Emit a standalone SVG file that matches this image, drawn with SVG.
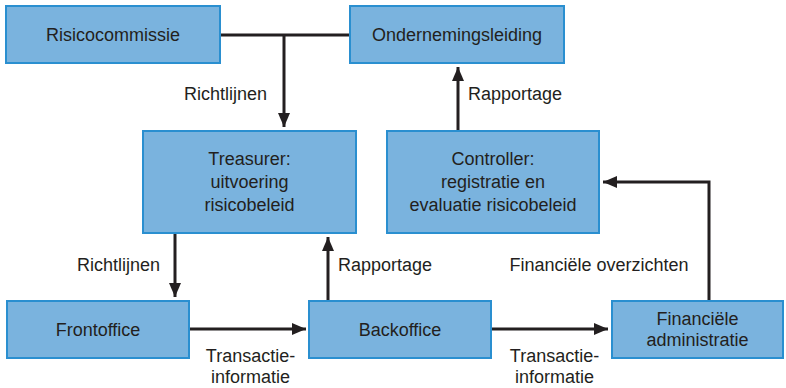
<svg xmlns="http://www.w3.org/2000/svg" width="786" height="388" viewBox="0 0 786 388">
<defs>
<marker id="ah" markerUnits="userSpaceOnUse" markerWidth="14" markerHeight="12" viewBox="0 0 14 12" refX="14" refY="6" orient="auto">
<path d="M0,0 L14,6 L0,12 Z" fill="#231f20"/>
</marker>
</defs>
<style>
.box{fill:#7ab3de;stroke:#2a8fd0;stroke-width:2}
.t{font-family:"Liberation Sans",Arial,sans-serif;font-size:18px;fill:#231f20;text-anchor:middle}
.l{font-family:"Liberation Sans",Arial,sans-serif;font-size:18px;fill:#231f20}
.c{fill:none;stroke:#231f20;stroke-width:3}
.a{marker-end:url(#ah)}
</style>
<rect width="786" height="388" fill="#ffffff"/>
<g id="connectors">
<path class="c" d="M220,35 H350"/>
<path class="c a" d="M284,35 V127"/>
<path class="c a" d="M458,131 V67"/>
<path class="c a" d="M175,233 V297"/>
<path class="c a" d="M328,301 V237"/>
<path class="c a" d="M189,329 H306"/>
<path class="c a" d="M491,329 H608"/>
<path class="c a" d="M709,301 V182 H603"/>
<text class="l" x="225.5" y="100" text-anchor="middle">Richtlijnen</text>
<text class="l" x="468" y="100">Rapportage</text>
<text class="l" x="118.5" y="271" text-anchor="middle">Richtlijnen</text>
<text class="l" x="338" y="271">Rapportage</text>
<text class="l" x="599" y="271" text-anchor="middle">Financiële overzichten</text>
<text class="l" x="250.5" y="362" text-anchor="middle">Transactie-</text>
<text class="l" x="250.5" y="383" text-anchor="middle">informatie</text>
<text class="l" x="554.5" y="362" text-anchor="middle">Transactie-</text>
<text class="l" x="554.5" y="383" text-anchor="middle">informatie</text>
</g>
<g id="risicocommissie">
<rect class="box" x="6" y="6" width="214" height="57"/>
<text class="t" x="113" y="41">Risicocommissie</text>
</g>
<g id="ondernemingsleiding">
<rect class="box" x="350" y="6" width="214" height="57"/>
<text class="t" x="457" y="41">Ondernemingsleiding</text>
</g>
<g id="treasurer">
<rect class="box" x="143" y="131" width="213" height="102"/>
<text class="t" x="249.5" y="165">Treasurer:</text>
<text class="t" x="249.5" y="188">uitvoering</text>
<text class="t" x="249.5" y="211">risicobeleid</text>
</g>
<g id="controller">
<rect class="box" x="387" y="131" width="212" height="102"/>
<text class="t" x="493" y="165">Controller:</text>
<text class="t" x="493" y="188">registratie en</text>
<text class="t" x="493" y="211">evaluatie risicobeleid</text>
</g>
<g id="frontoffice">
<rect class="box" x="7" y="301" width="182" height="57"/>
<text class="t" x="98" y="336">Frontoffice</text>
</g>
<g id="backoffice">
<rect class="box" x="309" y="301" width="182" height="57"/>
<text class="t" x="400" y="336">Backoffice</text>
</g>
<g id="financiele-administratie">
<rect class="box" x="612" y="301" width="171" height="57"/>
<text class="t" x="697.5" y="325">Financiële</text>
<text class="t" x="697.5" y="346">administratie</text>
</g>
</svg>
